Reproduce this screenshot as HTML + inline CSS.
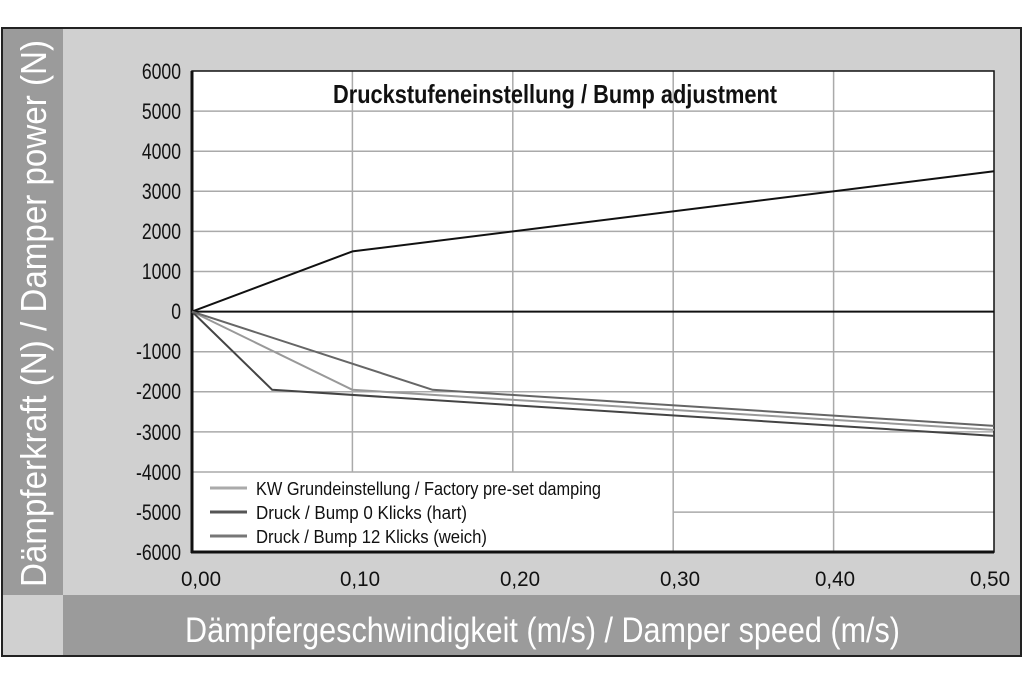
<!DOCTYPE html>
<html><head><meta charset="utf-8"><style>
html,body{margin:0;padding:0;background:#fff;}
body{width:1024px;height:683px;overflow:hidden;}
</style></head><body>
<svg width="1024" height="683" viewBox="0 0 1024 683" xmlns="http://www.w3.org/2000/svg" font-family="'Liberation Sans',sans-serif">
<rect x="0" y="0" width="1024" height="683" fill="#fff"/>
<rect x="2" y="28" width="1019" height="628" fill="#d0d0d0" stroke="#222" stroke-width="2"/>
<rect x="3" y="29" width="60" height="566" fill="#9b9b9b"/>
<rect x="63" y="595" width="957" height="60" fill="#9b9b9b"/>
<rect x="192" y="71" width="802" height="481" fill="#fff"/>
<g stroke="#aaa" stroke-width="1.5">
<line x1="192" y1="111.1" x2="994" y2="111.1"/>
<line x1="192" y1="151.2" x2="994" y2="151.2"/>
<line x1="192" y1="191.3" x2="994" y2="191.3"/>
<line x1="192" y1="231.4" x2="994" y2="231.4"/>
<line x1="192" y1="271.5" x2="994" y2="271.5"/>
<line x1="192" y1="351.7" x2="994" y2="351.7"/>
<line x1="192" y1="391.8" x2="994" y2="391.8"/>
<line x1="192" y1="431.9" x2="994" y2="431.9"/>
<line x1="192" y1="472" x2="994" y2="472"/>
<line x1="673" y1="512.1" x2="994" y2="512.1"/>
<line x1="352.4" y1="71" x2="352.4" y2="472"/>
<line x1="512.8" y1="71" x2="512.8" y2="472"/>
<line x1="673.2" y1="71" x2="673.2" y2="552"/>
<line x1="833.6" y1="71" x2="833.6" y2="552"/>
</g>
<line x1="192" y1="311.6" x2="994" y2="311.6" stroke="#111" stroke-width="2"/>
<rect x="192" y="71" width="802" height="481" fill="none" stroke="#111" stroke-width="1.5"/>
<line x1="192" y1="71" x2="192" y2="553" stroke="#111" stroke-width="3"/>
<line x1="191" y1="552" x2="994" y2="552" stroke="#111" stroke-width="3"/>
<g fill="none" stroke-width="2" stroke-linejoin="round">
<polyline points="192,311.6 352.4,251.4 994,171.2" stroke="#111"/>
<polyline points="192,311.6 352.4,389.8 994,429.9" stroke="#999"/>
<polyline points="192,311.6 272.2,389.8 994,435.9" stroke="#444"/>
<polyline points="192,311.6 432.6,389.8 994,425.9" stroke="#666"/>
</g>
<text x="333" y="103" font-size="26" font-weight="bold" fill="#111" textLength="444" lengthAdjust="spacingAndGlyphs">Druckstufeneinstellung / Bump adjustment</text>
<g font-size="22" fill="#111" text-anchor="end" transform="translate(181,0) scale(0.8,1) translate(-181,0)">
<text x="181" y="79">6000</text><text x="181" y="119">5000</text><text x="181" y="159">4000</text>
<text x="181" y="199">3000</text><text x="181" y="239">2000</text><text x="181" y="279">1000</text>
<text x="181" y="319">0</text><text x="181" y="359">-1000</text><text x="181" y="399">-2000</text>
<text x="181" y="440">-3000</text><text x="181" y="480">-4000</text><text x="181" y="520">-5000</text>
<text x="181" y="560">-6000</text>
</g>
<g font-size="21" fill="#111" text-anchor="middle">
<text x="201" y="586" textLength="40" lengthAdjust="spacingAndGlyphs">0,00</text>
<text x="360" y="586" textLength="40" lengthAdjust="spacingAndGlyphs">0,10</text>
<text x="520" y="586" textLength="40" lengthAdjust="spacingAndGlyphs">0,20</text>
<text x="680" y="586" textLength="40" lengthAdjust="spacingAndGlyphs">0,30</text>
<text x="835" y="586" textLength="40" lengthAdjust="spacingAndGlyphs">0,40</text>
<text x="990" y="586" textLength="40" lengthAdjust="spacingAndGlyphs">0,50</text>
</g>
<g stroke-width="3">
<line x1="210" y1="488" x2="247" y2="488" stroke="#aaa"/>
<line x1="210" y1="512" x2="247" y2="512" stroke="#555"/>
<line x1="210" y1="536" x2="247" y2="536" stroke="#777"/>
</g>
<g font-size="18" fill="#111">
<text x="256" y="495" textLength="345" lengthAdjust="spacingAndGlyphs">KW Grundeinstellung / Factory pre-set damping</text>
<text x="256" y="519" textLength="211" lengthAdjust="spacingAndGlyphs">Druck / Bump 0 Klicks (hart)</text>
<text x="256" y="543" textLength="231" lengthAdjust="spacingAndGlyphs">Druck / Bump 12 Klicks (weich)</text>
</g>
<text x="185" y="642" font-size="35" fill="#fff" textLength="715" lengthAdjust="spacingAndGlyphs">Dämpfergeschwindigkeit (m/s) / Damper speed (m/s)</text>
<text transform="translate(46,587) rotate(-90)" font-size="36" fill="#fff" textLength="547" lengthAdjust="spacingAndGlyphs">Dämpferkraft (N) / Damper power (N)</text>
</svg>
</body></html>
